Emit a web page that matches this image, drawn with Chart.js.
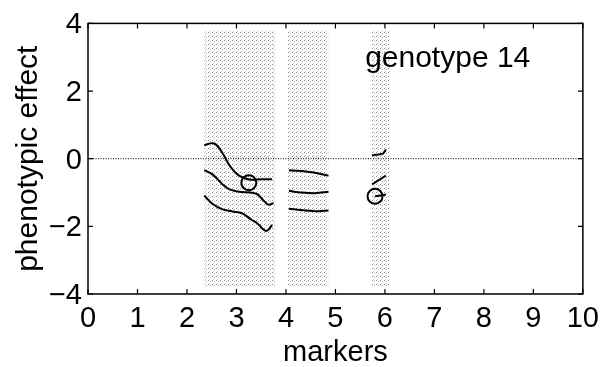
<!DOCTYPE html>
<html>
<head>
<meta charset="utf-8">
<script src="https://cdn.jsdelivr.net/npm/chart.js@4.4.1/dist/chart.umd.min.js"></script>
<style>
html,body{margin:0;padding:0;background:#fff;}
canvas{display:block;}
</style>
</head>
<body>
<canvas id="chart" width="607" height="367"></canvas>
<script>

/* DATA */

const xTicks = [0,1,2,3,4,5,6,7,8,9,10];
const yTicks = [-4,-2,0,2,4];

// shaded marker intervals
const bandFrom = [2.35, 4.02, 5.72];
const bandTo   = [3.80, 4.86, 6.10];
const bandTop = 3.8;
const bandBottom = -3.8;

// effect curves, one array per trace
const curveA1 = [[2.35,0.40],[2.55,0.45],[2.72,0.16],[2.85,-0.18],[3.02,-0.47],[3.15,-0.57],[3.30,-0.62],[3.49,-0.61],[3.72,-0.61]];
const curveA2 = [[2.35,-0.34],[2.52,-0.47],[2.72,-0.76],[2.85,-0.90],[3.05,-0.98],[3.29,-1.00],[3.42,-1.05],[3.55,-1.24],[3.65,-1.36],[3.75,-1.31]];
const curveA3 = [[2.35,-1.09],[2.52,-1.34],[2.72,-1.50],[2.92,-1.56],[3.12,-1.62],[3.29,-1.79],[3.42,-1.91],[3.55,-2.10],[3.62,-2.13],[3.72,-1.96]];

const curveB1 = [[4.06,-0.34],[4.26,-0.36],[4.52,-0.40],[4.86,-0.50]];
const curveB2 = [[4.06,-0.95],[4.32,-1.00],[4.59,-1.02],[4.86,-0.98]];
const curveB3 = [[4.06,-1.48],[4.39,-1.53],[4.66,-1.55],[4.86,-1.53]];

const curveC1 = [[5.74,0.10],[5.96,0.15],[6.02,0.27]];
const curveC2 = [[5.74,-0.76],[6.02,-0.50]];
const curveC3 = [[5.80,-1.11],[6.02,-1.06]];

// peak estimates
const peakX = [3.25, 5.80];
const peakY = [-0.71, -1.11];

const labelText = "genotype 14";
const labelX = 5.6;
const labelY = 2.72;


/* HELPERS */

const FONT = "'Liberation Sans', Arial, Helvetica, sans-serif";

const canvas = document.getElementById("chart");
const ctx = canvas.getContext("2d");

function stipple(){
const c = document.createElement("canvas");
c.width = 4; c.height = 4;
const g = c.getContext("2d");
g.fillStyle = "#fff";
g.fillRect(0,0,4,4);
const dots = [[0,0,"#888"],[2,1,"#aaa"],[1,3,"#c8c8c8"]];
dots.forEach(d=>{ g.fillStyle = d[2]; g.fillRect(d[0],d[1],1,1); });
return ctx.createPattern(c,"repeat");
}

const pts = arr => arr.map(p=>({x:p[0],y:p[1]}));

function curve(arr, tension){
return {
type:"line",
order:1,
data:pts(arr),
borderColor:"#000",
borderWidth:2,
pointRadius:0,
tension:tension,
fill:false
};
}

const pattern = stipple();

const datasets = [];

// higher order is painted first, so the bands sit underneath
bandFrom.forEach((x0,i)=>{
datasets.push({
type:"line",
order:3,
data:[{x:x0,y:bandTop},{x:bandTo[i],y:bandTop}],
borderWidth:0,
borderColor:"rgba(0,0,0,0)",
pointRadius:0,
backgroundColor:pattern,
fill:{value:bandBottom}
});
});

// dotted zero reference
datasets.push({
type:"line",
order:2,
data:[{x:xTicks[0],y:0},{x:xTicks[xTicks.length-1],y:0}],
borderColor:"#000",
borderWidth:1,
borderDash:[1,1.5],
pointRadius:0,
fill:false
});

[curveA1,curveA2,curveA3].forEach(c=>datasets.push(curve(c,0.4)));
[curveB1,curveB2,curveB3].forEach(c=>datasets.push(curve(c,0.3)));
[curveC1,curveC2,curveC3].forEach(c=>datasets.push(curve(c,0.2)));

datasets.push({
type:"scatter",
order:0,
data:peakX.map((x,i)=>({x:x,y:peakY[i]})),
pointStyle:"circle",
pointRadius:7.5,
borderWidth:2,
borderColor:"#000",
backgroundColor:"rgba(0,0,0,0)"
});


/* FRAME, INWARD TICKS AND TEXT */

const framePlugin = {
id:"frame",
afterDatasetsDraw(chart){
const {ctx, chartArea:a, scales:{x,y}} = chart;
ctx.save();
ctx.strokeStyle = "#000";
ctx.lineWidth = 1.5;
ctx.strokeRect(a.left, a.top, a.right-a.left, a.bottom-a.top);
ctx.lineWidth = 1.2;
const tl = 5;
ctx.beginPath();
xTicks.forEach(v=>{
const px = x.getPixelForValue(v);
ctx.moveTo(px,a.bottom); ctx.lineTo(px,a.bottom-tl);
ctx.moveTo(px,a.top); ctx.lineTo(px,a.top+tl);
});
yTicks.forEach(v=>{
const py = y.getPixelForValue(v);
ctx.moveTo(a.left,py); ctx.lineTo(a.left+tl,py);
ctx.moveTo(a.right,py); ctx.lineTo(a.right-tl,py);
});
ctx.stroke();

ctx.fillStyle = "#000";
ctx.font = "30px " + FONT;
ctx.textAlign = "left";
ctx.textBaseline = "alphabetic";
ctx.fillText(labelText, x.getPixelForValue(labelX), y.getPixelForValue(labelY));
ctx.restore();
}
};


/* CHART */

Chart.defaults.font.family = FONT;
Chart.defaults.color = "#000";

new Chart(ctx,{
data:{datasets:datasets},
plugins:[framePlugin],
options:{
responsive:false,
animation:false,
layout:{padding:{top:17,right:21,left:0,bottom:0}},
plugins:{
legend:{display:false},
tooltip:{enabled:false}
},
scales:{
x:{
type:"linear",
min:0,
max:10,
afterBuildTicks:s=>{ s.ticks = xTicks.map(v=>({value:v})); },
afterFit:s=>{ s.height = 73; },
grid:{display:false, drawTicks:false},
border:{display:false},
ticks:{autoSkip:false, maxRotation:0, padding:8, font:{size:29}, color:"#000"},
title:{display:true, text:"markers", font:{size:29}, padding:{top:0,bottom:-3}, color:"#000"}
},
y:{
type:"linear",
min:-4,
max:4,
afterBuildTicks:s=>{ s.ticks = yTicks.map(v=>({value:v})); },
afterFit:s=>{ s.width = 88; },
grid:{display:false, drawTicks:false},
border:{display:false},
ticks:{
padding:6,
labelOffset:2,
font:{size:29},
color:"#000",
callback:v=>String(v).replace("-","\u2212")
},
title:{display:true, text:"phenotypic effect", font:{size:30}, padding:{top:11,bottom:0}, color:"#000"}
}
}
}
});

</script>
</body>
</html>
